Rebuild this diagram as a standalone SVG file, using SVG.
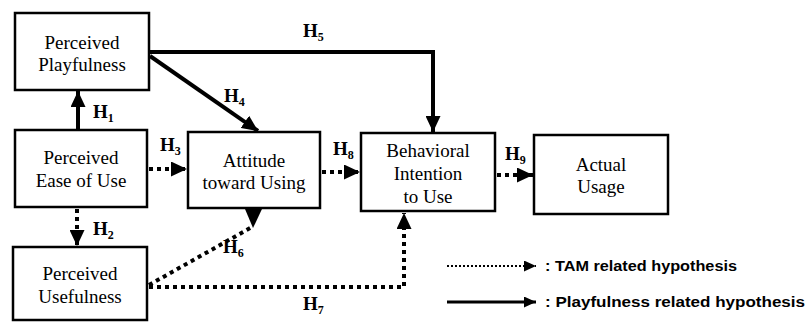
<svg xmlns="http://www.w3.org/2000/svg" width="808" height="322" viewBox="0 0 808 322">
<defs>
<style>
.box{fill:#fff;stroke:#000;stroke-width:2.5}
.t{font-family:"Liberation Serif","Times New Roman",serif;font-size:19px;fill:#000;text-anchor:middle}
.h{font-family:"Liberation Serif","Times New Roman",serif;font-size:19px;font-weight:bold;fill:#000}
.h tspan{font-size:12px}
.solid{fill:none;stroke:#000;stroke-width:4}
.dot{fill:none;stroke:#000;stroke-width:4;stroke-dasharray:4 4}
.lg{font-family:"Liberation Sans",Arial,sans-serif;font-size:14px;font-weight:bold;fill:#000}
</style>
<marker id="ah" markerUnits="userSpaceOnUse" viewBox="0 0 16 15" refX="16" refY="7.5" markerWidth="16" markerHeight="15" orient="auto">
<path d="M0,0 L16,7.5 L0,15 z" fill="#000"/>
</marker>
<marker id="ahs" markerUnits="userSpaceOnUse" viewBox="0 0 12 11" refX="12" refY="5.5" markerWidth="12" markerHeight="11" orient="auto">
<path d="M0,0 L12,5.5 L0,11 z" fill="#000"/>
</marker>
</defs>
<rect width="808" height="322" fill="#fff"/>

<g id="connectors">
<line id="H1" class="solid" x1="78" y1="130" x2="78" y2="91" marker-end="url(#ah)"/>
<line id="H2" class="dot" x1="77" y1="209" x2="77" y2="246" marker-end="url(#ah)"/>
<line id="H3" class="dot" x1="149" y1="169" x2="187" y2="169" marker-end="url(#ah)"/>
<line id="H4" class="solid" x1="150" y1="56" x2="258" y2="131" marker-end="url(#ah)"/>
<polyline id="H5" class="solid" points="149,52 433,52 433,132" marker-end="url(#ah)"/>
<line id="H6" class="dot" x1="149" y1="285" x2="252" y2="227"/>
<polygon points="245,209 262,209 253,228" fill="#000"/>
<polyline id="H7" class="dot" points="149,287 404,287 404,213" marker-end="url(#ah)"/>
<line id="H8" class="dot" x1="322" y1="172" x2="360" y2="172" marker-end="url(#ah)"/>
<line id="H9" class="dot" x1="497" y1="175" x2="533" y2="175" marker-end="url(#ah)"/>
</g>

<g id="labels">
<text class="h" x="93" y="118">H<tspan dy="4">1</tspan></text>
<text class="h" x="93" y="235">H<tspan dy="4">2</tspan></text>
<text class="h" x="160" y="151">H<tspan dy="4">3</tspan></text>
<text class="h" x="224" y="102">H<tspan dy="4">4</tspan></text>
<text class="h" x="303" y="37">H<tspan dy="4">5</tspan></text>
<text class="h" x="223" y="253">H<tspan dy="4">6</tspan></text>
<text class="h" x="303" y="310">H<tspan dy="4">7</tspan></text>
<text class="h" x="333" y="155">H<tspan dy="4">8</tspan></text>
<text class="h" x="505" y="160">H<tspan dy="4">9</tspan></text>
</g>

<g id="playfulness">
<rect class="box" x="15" y="13" width="134" height="77"/>
<text class="t" x="82" y="49">Perceived</text>
<text class="t" x="82" y="71">Playfulness</text>
</g>
<g id="ease">
<rect class="box" x="15" y="130" width="132" height="77"/>
<text class="t" x="81" y="164">Perceived</text>
<text class="t" x="81" y="187">Ease of Use</text>
</g>
<g id="usefulness">
<rect class="box" x="13" y="247" width="134" height="73"/>
<text class="t" x="80" y="280">Perceived</text>
<text class="t" x="80" y="303">Usefulness</text>
</g>
<g id="attitude">
<rect class="box" x="188" y="132" width="132" height="76"/>
<text class="t" x="254" y="167">Attitude</text>
<text class="t" x="254" y="189">toward Using</text>
</g>
<g id="intention">
<rect class="box" x="361" y="133" width="134" height="78"/>
<text class="t" x="428" y="157">Behavioral</text>
<text class="t" x="428" y="180">Intention</text>
<text class="t" x="428" y="203">to Use</text>
</g>
<g id="usage">
<rect class="box" x="534" y="135" width="134" height="79"/>
<text class="t" x="601" y="171">Actual</text>
<text class="t" x="601" y="193">Usage</text>
</g>

<g id="legend">
<line x1="447" y1="266" x2="536" y2="266" stroke="#000" stroke-width="2" stroke-dasharray="2 2" marker-end="url(#ahs)"/>
<line x1="447" y1="302" x2="536" y2="302" stroke="#000" stroke-width="3" marker-end="url(#ahs)"/>
<text class="lg" x="545" y="271" textLength="192" lengthAdjust="spacingAndGlyphs">: TAM related hypothesis</text>
<text class="lg" x="545" y="307" textLength="260" lengthAdjust="spacingAndGlyphs">: Playfulness related hypothesis</text>
</g>
</svg>
